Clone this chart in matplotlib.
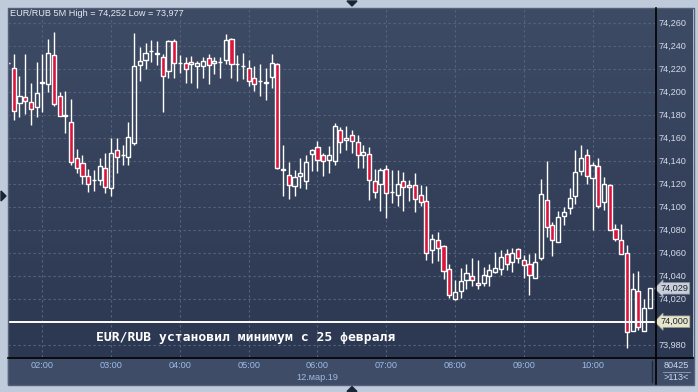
import matplotlib
matplotlib.use('Agg')
import matplotlib.pyplot as plt
import numpy as np
import pandas as pd
from matplotlib.ticker import FuncFormatter
from matplotlib.patches import Rectangle, Polygon

plt.rcParams['font.family'] = ['Liberation Sans', 'DejaVu Sans']

W, H = 698, 392

# EUR/RUB 5M candles, 12.03.2019 01:30 .. 10:50
opens = [74.225, 74.221, 74.190, 74.195, 74.191, 74.187, 74.208, 74.207, 74.232, 74.196,
         74.180, 74.174, 74.142, 74.138, 74.127, 74.123, 74.123, 74.134, 74.116, 74.149,
         74.145, 74.143, 74.155, 74.223, 74.228, 74.235, 74.234, 74.230, 74.218, 74.244,
         74.225, 74.225, 74.226, 74.222, 74.222, 74.229, 74.225, 74.226, 74.228, 74.246,
         74.224, 74.222, 74.221, 74.212, 74.209, 74.208, 74.213, 74.224, 74.133, 74.128,
         74.118, 74.127, 74.122, 74.146, 74.152, 74.145, 74.141, 74.140, 74.167, 74.158,
         74.162, 74.156, 74.145, 74.146, 74.122, 74.120, 74.133, 74.113, 74.110, 74.122,
         74.119, 74.119, 74.110, 74.105, 74.062, 74.071, 74.066, 74.046, 74.020, 74.027,
         74.036, 74.040, 74.034, 74.034, 74.040, 74.043, 74.046, 74.059, 74.052, 74.063,
         74.054, 74.050, 74.038, 74.055, 74.106, 74.084, 74.069, 74.092, 74.099, 74.109,
         74.131, 74.145, 74.125, 74.135, 74.104, 74.119, 74.081, 74.071, 74.060, 73.992,
         74.027, 73.992, 74.012]
highs = [74.226, 74.233, 74.214, 74.233, 74.208, 74.226, 74.233, 74.246, 74.252, 74.200,
         74.201, 74.194, 74.150, 74.145, 74.133, 74.132, 74.142, 74.147, 74.160, 74.160,
         74.154, 74.174, 74.251, 74.239, 74.242, 74.245, 74.244, 74.233, 74.245, 74.246,
         74.232, 74.230, 74.231, 74.227, 74.230, 74.233, 74.230, 74.230, 74.250, 74.247,
         74.232, 74.234, 74.228, 74.222, 74.224, 74.221, 74.233, 74.225, 74.154, 74.139,
         74.132, 74.142, 74.145, 74.150, 74.157, 74.147, 74.153, 74.173, 74.169, 74.170,
         74.167, 74.162, 74.154, 74.152, 74.133, 74.134, 74.136, 74.132, 74.132, 74.130,
         74.123, 74.129, 74.119, 74.118, 74.076, 74.078, 74.067, 74.050, 74.036, 74.047,
         74.050, 74.055, 74.054, 74.048, 74.050, 74.061, 74.062, 74.063, 74.064, 74.064,
         74.058, 74.059, 74.060, 74.124, 74.140, 74.087, 74.096, 74.100, 74.116, 74.149,
         74.154, 74.150, 74.139, 74.142, 74.126, 74.120, 74.085, 74.085, 74.067, 74.042,
         74.044, 74.020, 74.029]
lows = [74.224, 74.175, 74.178, 74.181, 74.171, 74.178, 74.182, 74.200, 74.188, 74.179,
        74.164, 74.136, 74.129, 74.120, 74.113, 74.114, 74.119, 74.112, 74.109, 74.129,
        74.136, 74.136, 74.154, 74.209, 74.220, 74.226, 74.223, 74.182, 74.212, 74.212,
        74.216, 74.208, 74.208, 74.203, 74.212, 74.207, 74.215, 74.212, 74.224, 74.212,
        74.209, 74.211, 74.205, 74.201, 74.196, 74.193, 74.203, 74.133, 74.109, 74.107,
        74.109, 74.116, 74.115, 74.131, 74.131, 74.127, 74.129, 74.136, 74.147, 74.149,
        74.147, 74.134, 74.134, 74.106, 74.108, 74.096, 74.090, 74.103, 74.101, 74.096,
        74.105, 74.095, 74.101, 74.054, 74.051, 74.053, 74.037, 74.021, 74.019, 74.021,
        74.028, 74.031, 74.028, 74.031, 74.031, 74.042, 74.041, 74.045, 74.043, 74.051,
        74.038, 74.023, 74.038, 74.054, 74.074, 74.057, 74.069, 74.084, 74.094, 74.102,
        74.128, 74.120, 74.080, 74.099, 74.097, 74.080, 74.070, 74.059, 73.977, 73.992,
        73.993, 73.992, 74.012]
closes = [74.225, 74.183, 74.196, 74.192, 74.185, 74.199, 74.208, 74.234, 74.189, 74.179,
          74.179, 74.139, 74.134, 74.127, 74.120, 74.123, 74.135, 74.117, 74.147, 74.143,
          74.145, 74.161, 74.222, 74.227, 74.234, 74.235, 74.233, 74.214, 74.244, 74.225,
          74.225, 74.220, 74.224, 74.225, 74.227, 74.223, 74.227, 74.226, 74.245, 74.224,
          74.224, 74.222, 74.209, 74.207, 74.209, 74.208, 74.225, 74.134, 74.132, 74.119,
          74.126, 74.129, 74.139, 74.149, 74.141, 74.140, 74.145, 74.170, 74.156, 74.160,
          74.157, 74.145, 74.148, 74.123, 74.113, 74.132, 74.112, 74.113, 74.120, 74.117,
          74.117, 74.107, 74.104, 74.060, 74.072, 74.064, 74.044, 74.023, 74.026, 74.035,
          74.042, 74.036, 74.032, 74.041, 74.045, 74.047, 74.056, 74.050, 74.060, 74.055,
          74.049, 74.041, 74.052, 74.111, 74.082, 74.071, 74.091, 74.095, 74.108, 74.130,
          74.142, 74.127, 74.136, 74.101, 74.120, 74.080, 74.072, 74.059, 73.991, 74.028,
          73.995, 74.012, 74.029]

times = pd.date_range('2019-03-12 01:30', periods=len(opens), freq='5min')
price_ticks = [73.98, 74.00, 74.02, 74.04, 74.06, 74.08, 74.10, 74.12, 74.14, 74.16,
               74.18, 74.20, 74.22, 74.24, 74.26]
date_label = '12.мар.19'
header = 'EUR/RUB 5M High = 74,252 Low = 73,977'
caption = 'EUR/RUB установил минимум с 25 февраля'
support_level = 74.000
volume_text = '80425'
count_text = '>113<'


def px(x, y, w, h):
    # pixel box (from top-left) -> figure fraction
    return [x / W, 1 - (y + h) / H, w / W, h / H]


def fmt_price(v, _=None):
    # the support level has its own tag, so its plain label stays empty
    if abs(v - support_level) < 1e-6:
        return ''
    return f'{v:.3f}'.replace('.', ',')


fig = plt.figure(figsize=(W / 100, H / 100), dpi=100)
fig.patch.set_facecolor('#bfcadb')

# gradient background of plot + price column
bg = fig.add_axes(px(8, 8, 685, 349))
grad = np.linspace(0, 1, 256).reshape(-1, 1)
top_c = np.array([0.243, 0.294, 0.396])
bot_c = np.array([0.173, 0.216, 0.318])
img = top_c[None, None, :] * (1 - grad[:, :, None]) + bot_c[None, None, :] * grad[:, :, None]
bg.imshow(img, aspect='auto', extent=[0, 1, 0, 1])
bg.axis('off')

# time axis strip
fig.add_artist(Rectangle((8 / W, 1 - 384 / H), 685 / W, 27 / H,
                         transform=fig.transFigure, color='#3e4c68', zorder=-1))

ax = fig.add_axes(px(8, 8, 647, 349))
ax.patch.set_alpha(0)
x = np.arange(len(opens))
o = np.array(opens)
c = np.array(closes)
hi = np.array(highs)
lo = np.array(lows)
up = c >= o
body_lo = np.minimum(o, c)
body_hi = np.maximum(o, c)

ax.vlines(x, lo, body_lo, color='white', lw=1.0, zorder=2)
ax.vlines(x, body_hi, hi, color='white', lw=1.0, zorder=2)
height = np.maximum(body_hi - body_lo, 0.0002)
ax.bar(x[up], height[up], bottom=body_lo[up], width=0.72, facecolor='none',
       edgecolor='white', linewidth=1.0, zorder=3)
ax.bar(x[~up], height[~up], bottom=body_lo[~up], width=0.72, facecolor='#dc143c',
       edgecolor='white', linewidth=1.0, zorder=3)

ax.axhline(support_level, color='white', lw=1.4, zorder=4)

ax.set_xlim(0, 112.9)
ax.set_ylim(73.9693, 74.2728)

hour_pos = [i for i, t in enumerate(times) if t.minute == 0]
ax.set_xticks(hour_pos)
ax.set_xticklabels([times[i].strftime('%H:%M') for i in hour_pos])
ax.set_yticks(price_ticks)
ax.yaxis.set_major_formatter(FuncFormatter(fmt_price))
ax.yaxis.tick_right()
ax.tick_params(axis='y', length=0, pad=2.2, labelsize=6.6, labelcolor='#d3dbe8')
ax.tick_params(axis='x', length=0, pad=2.6, labelsize=6.6, labelcolor='#9dbbe4')
ax.grid(True, color='#56657f', linestyle=(0, (2, 2.5)), lw=0.8)
ax.set_axisbelow(True)
for s in ax.spines.values():
    s.set_visible(False)

ax.annotate(date_label, xy=(hour_pos[4], 0), xycoords=('data', 'axes fraction'),
            xytext=(0, -14.5), textcoords='offset points', ha='center', va='center',
            fontsize=6.6, color='#9dbbe4', annotation_clip=False)

ax.text(0.003, 0.983, header, transform=ax.transAxes, fontsize=6.6,
        color='#e6ebf3', ha='left', va='center')
ax.text(0.367, 0.0553, caption, transform=ax.transAxes, fontsize=9.4,
        family='DejaVu Sans Mono', fontweight='bold', color='white',
        ha='center', va='center', zorder=5)

# price tags on the right axis
ax.annotate(f'{closes[-1]:.3f}'.replace('.', ','), xy=(1.0, closes[-1]),
            xycoords=('axes fraction', 'data'), xytext=(4, 0), textcoords='offset points',
            ha='left', va='center', fontsize=6.6, color='#1c2434', annotation_clip=False,
            bbox=dict(boxstyle='larrow,pad=0.14', fc='#c9ced8', ec='#8890a0', lw=0.5), zorder=6)
ax.annotate(f'{support_level:.3f}'.replace('.', ','), xy=(1.0, support_level),
            xycoords=('axes fraction', 'data'), xytext=(4, 0), textcoords='offset points',
            ha='left', va='center', fontsize=6.6, color='#1c2434', annotation_clip=False,
            bbox=dict(boxstyle='larrow,pad=0.14', fc='#e6e6cc', ec='#9a9a88', lw=0.5), zorder=6)

# frame, separators and little arrows
ov = fig.add_axes([0, 0, 1, 1])
ov.set_xlim(0, W)
ov.set_ylim(H, 0)
ov.axis('off')
ov.patch.set_alpha(0)
ov.add_patch(Rectangle((7.5, 7.5), 686, 377, fill=False, ec='#55607a', lw=1))
ov.plot([655.5, 655.5], [8, 384], color='black', lw=1.2)
ov.plot([8, 693], [357.5, 357.5], color='black', lw=1.2)
ov.plot([651.5, 651.5], [361, 382], color='#1f293a', lw=1)
ov.plot([663, 690], [371.5, 371.5], color='#8ea4c4', lw=0.6)
ov.text(676, 365, volume_text, fontsize=6.6, color='#c9d8ee', ha='center', va='center')
ov.text(676, 377.5, count_text, fontsize=6.6, color='#c9d8ee', ha='center', va='center')
ov.add_patch(Polygon([(347, 1), (357, 1), (352, 6)], color='#1b2538'))
ov.add_patch(Polygon([(347, 391.5), (357, 391.5), (352, 386.5)], color='#1b2538'))
ov.add_patch(Polygon([(1, 191), (1, 201), (6, 196)], color='#1b2538'))

fig.savefig('out.png', dpi=100, facecolor=fig.get_facecolor())
